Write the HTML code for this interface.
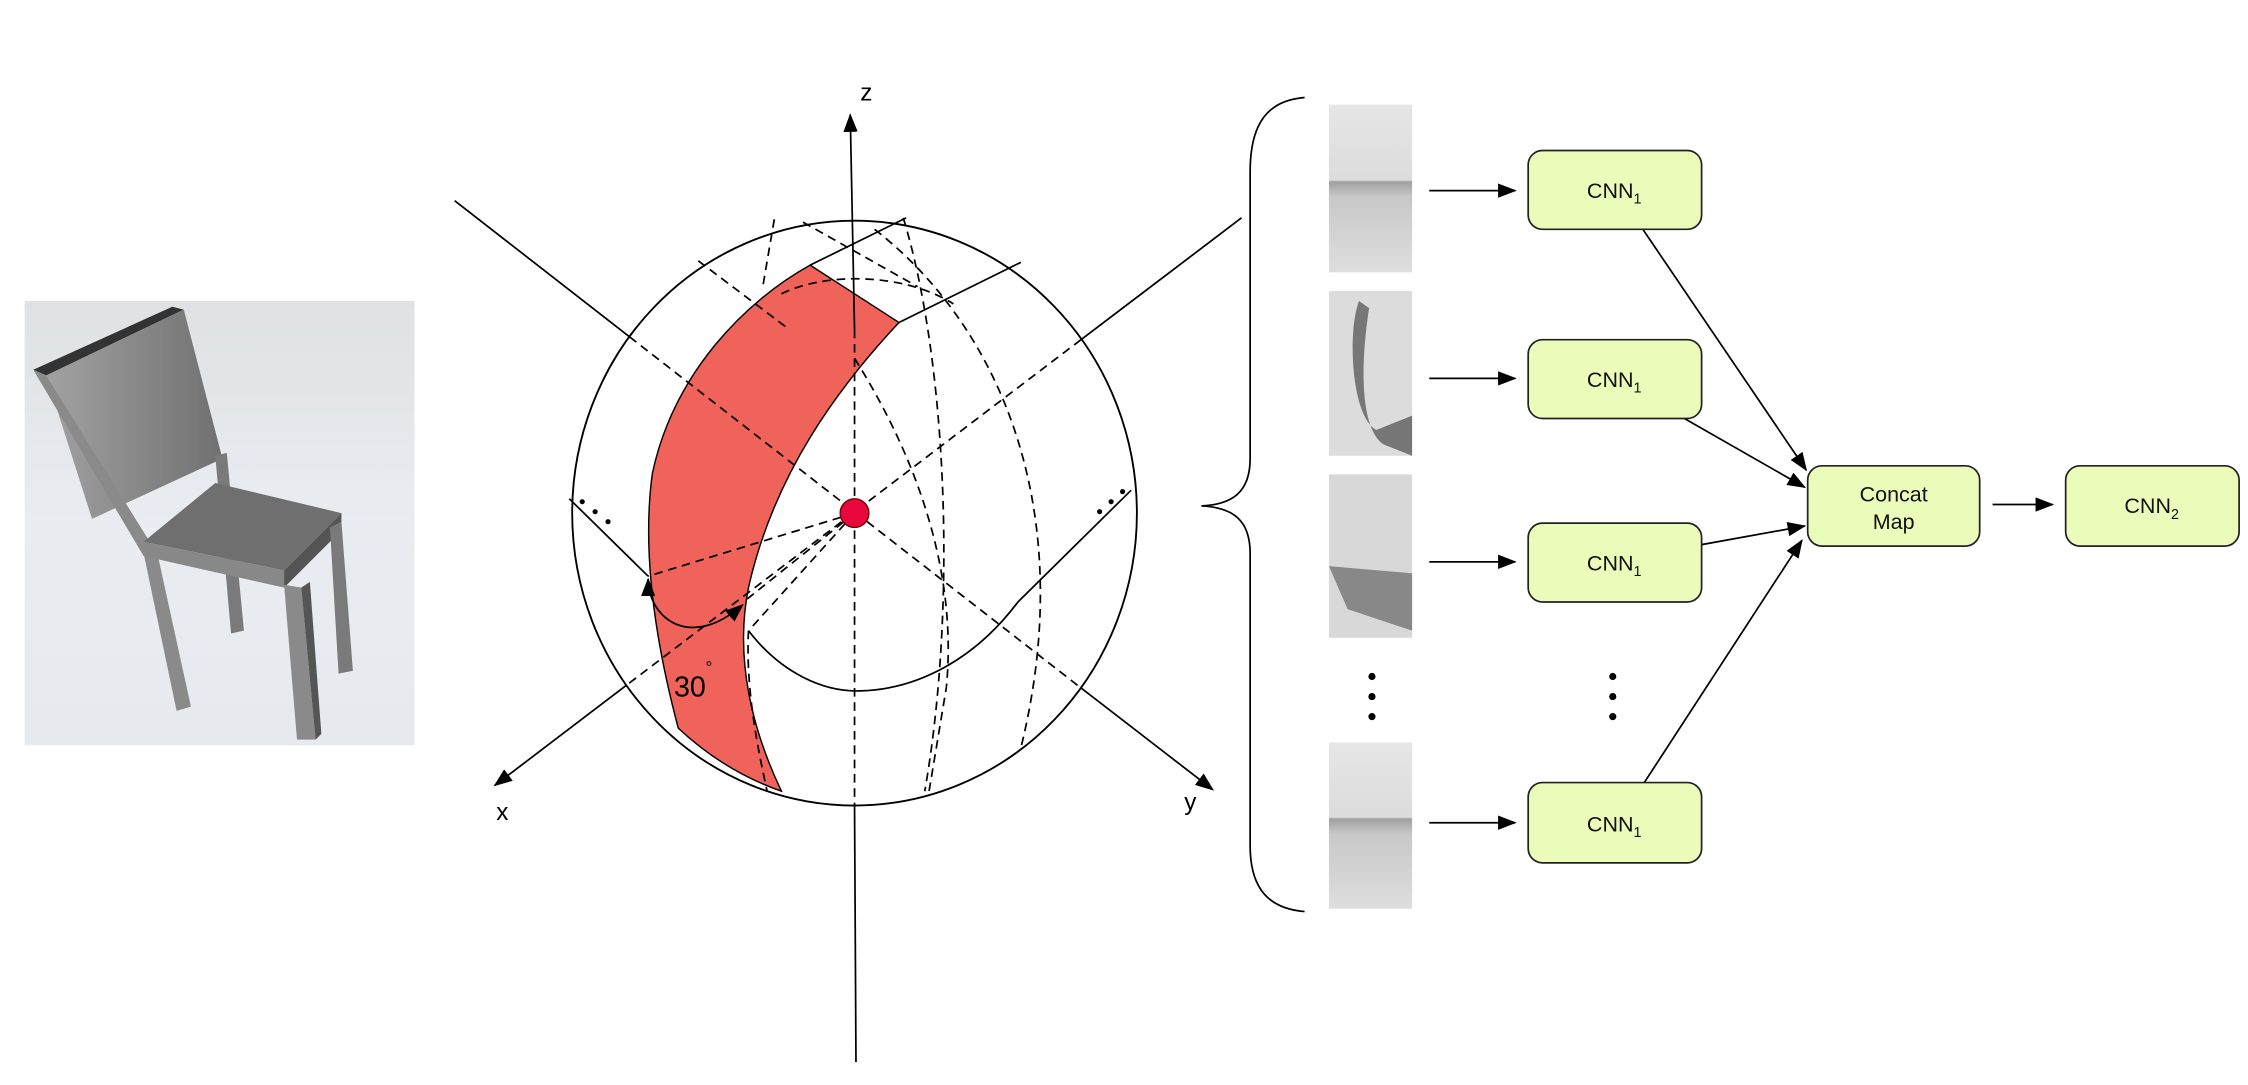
<!DOCTYPE html>
<html><head><meta charset="utf-8"><style>
html,body{margin:0;padding:0;background:#fff;}
svg{display:block;}
text{font-family:"Liberation Sans",sans-serif;}
</style></head><body>
<svg width="2248" height="1085" viewBox="0 0 1568 757" xmlns="http://www.w3.org/2000/svg">
<defs>
<marker id="ah" markerWidth="13" markerHeight="10" refX="12" refY="5" orient="auto" markerUnits="userSpaceOnUse"><path d="M0,0 L13,5 L0,10 Z" fill="#000"/></marker>
<marker id="ahs" markerWidth="13" markerHeight="10" refX="1" refY="5" orient="auto" markerUnits="userSpaceOnUse"><path d="M13,0 L0,5 L13,10 Z" fill="#000"/></marker>
<linearGradient id="bg" x1="0" y1="0" x2="0" y2="1"><stop offset="0" stop-color="#dfe1e3"/><stop offset="0.5" stop-color="#e9edf2"/><stop offset="1" stop-color="#e6eaee"/></linearGradient>
<linearGradient id="back" x1="0" y1="0" x2="1" y2="0"><stop offset="0" stop-color="#a2a2a2"/><stop offset="1" stop-color="#707070"/></linearGradient>
<linearGradient id="strip" x1="0" y1="0" x2="0" y2="1"><stop offset="0" stop-color="#e6e6e6"/><stop offset="0.45" stop-color="#dcdcdc"/><stop offset="0.46" stop-color="#a0a0a0"/><stop offset="0.55" stop-color="#c8c8c8"/><stop offset="1" stop-color="#dedede"/></linearGradient>
</defs>

<!-- chair -->
<rect x="17" y="210" width="272" height="310" fill="url(#bg)"/>
<polygon points="23,258 120,214 128,216 32,262" fill="#333"/>
<polygon points="32,262 128,216 155,320 64,362" fill="url(#back)"/>
<polygon points="23,258 32,262 108,384 100,388" fill="#8a8a8a"/>
<polygon points="100,386 110,388 133,493 123,496" fill="#8a8a8a"/>
<polygon points="150,318 158,316 170,440 161,442" fill="#7a7a7a"/>
<polygon points="100,378 150,337 238,358 198,398" fill="#6f6f6f"/>
<polygon points="100,378 198,398 198,410 100,388" fill="#888"/>
<polygon points="198,398 238,358 238,370 198,410" fill="#555"/>
<polygon points="198,408 210,410 220,516 207,516" fill="#8a8a8a"/>
<polygon points="210,410 216,406 224,512 220,516" fill="#555"/>
<polygon points="230,368 238,364 246,468 236,470" fill="#7a7a7a"/>

<!-- sphere -->
<path d="M565,185 L627,225 C585,270 540,330 522,410 C512,460 525,510 545,552 Q505,538 473,508 C455,440 448,380 455,330 C470,260 520,210 565,185 Z" fill="#ef635a" stroke="#000" stroke-width="1"/>
<ellipse cx="596" cy="358" rx="197" ry="204" fill="none" stroke="#000" stroke-width="1.3"/>

<g fill="none" stroke="#000" stroke-width="1.2">
<line x1="317" y1="140" x2="439" y2="235"/>
<line x1="754" y1="480" x2="846" y2="551" marker-end="url(#ah)"/>
<line x1="866" y1="152" x2="754" y2="237"/>
<line x1="437" y1="478" x2="345" y2="548" marker-end="url(#ah)"/>
<line x1="596" y1="230" x2="593" y2="80" marker-end="url(#ah)"/>
<line x1="596" y1="562" x2="597" y2="741"/>
<path d="M565,185 L632,152"/>
<path d="M627,225 L712,183"/>
<path d="M522,440 C545,470 575,483 600,482 C640,481 680,460 710,420 L789,342"/>
<path d="M397,348 L452,402"/>
<path d="M452,404 C452,430 480,455 518,422" marker-start="url(#ahs)" marker-end="url(#ah)"/>
</g>
<g fill="none" stroke="#000" stroke-width="1.2" stroke-dasharray="6,4">
<line x1="439" y1="235" x2="754" y2="480"/>
<line x1="754" y1="237" x2="437" y2="478"/>
<line x1="596" y1="230" x2="596" y2="562"/>
<line x1="596" y1="358" x2="452" y2="402"/>
<line x1="596" y1="358" x2="521" y2="418"/>
<line x1="596" y1="358" x2="523" y2="439"/>
<path d="M630,152 C660,250 668,420 645,552"/>
<path d="M540,153 L532,200"/>
<path d="M610,160 C700,230 752,360 712,522"/>
<path d="M596,250 C640,320 668,400 660,480 L648,552"/>
<path d="M522,440 C520,480 528,520 535,552"/>
<path d="M545,205 C575,190 630,190 665,212"/>
<path d="M487,182 L548,228"/>
<path d="M560,155 L640,200"/>
</g>
<circle cx="596" cy="358" r="10" fill="#e8083e" stroke="#700" stroke-width="1"/>
<g fill="#000">
<circle cx="406" cy="350" r="1.8"/><circle cx="415" cy="357" r="1.8"/><circle cx="424" cy="364" r="1.8"/>
<circle cx="767" cy="357" r="1.8"/><circle cx="775" cy="350" r="1.8"/><circle cx="783" cy="343" r="1.8"/>
</g>
<text x="600" y="70" font-size="17">z</text>
<text x="346" y="572" font-size="17">x</text>
<text x="826" y="565" font-size="17">y</text>
<text x="470" y="486" font-size="20">30</text>
<text x="492" y="470" font-size="12">°</text>

<!-- brace -->
<path d="M910,68 C885,70 872,85 872,120 L872,320 C872,343 860,352 838,353 C860,354 872,363 872,386 L872,590 C872,620 885,634 910,636" fill="none" stroke="#000" stroke-width="1.2"/>

<!-- strips -->
<rect x="927" y="73" width="58" height="117" fill="url(#strip)"/>
<rect x="927" y="203" width="58" height="115" fill="#dcdcdc"/>
<path d="M948,210 C940,230 942,290 960,300 L985,290 L985,318 L965,310 C950,300 948,260 955,215 Z" fill="#777"/>
<rect x="927" y="331" width="58" height="114" fill="#d8d8d8"/>
<path d="M927,395 L985,400 L985,440 L940,425 Z" fill="#888"/>
<rect x="927" y="518" width="58" height="116" fill="url(#strip)"/>
<g fill="#000">
<circle cx="957" cy="472" r="2.5"/><circle cx="957" cy="486" r="2.5"/><circle cx="957" cy="500" r="2.5"/>
<circle cx="1125" cy="472" r="2.5"/><circle cx="1125" cy="486" r="2.5"/><circle cx="1125" cy="500" r="2.5"/>
</g>

<g stroke="#000" stroke-width="1.2" fill="none">
<line x1="997" y1="133" x2="1057" y2="133" marker-end="url(#ah)"/>
<line x1="997" y1="264" x2="1057" y2="264" marker-end="url(#ah)"/>
<line x1="997" y1="392" x2="1057" y2="392" marker-end="url(#ah)"/>
<line x1="997" y1="574" x2="1057" y2="574" marker-end="url(#ah)"/>
<line x1="1146" y1="160" x2="1260" y2="328" marker-end="url(#ah)"/>
<line x1="1175" y1="292" x2="1259" y2="340" marker-end="url(#ah)"/>
<line x1="1187" y1="380" x2="1259" y2="367" marker-end="url(#ah)"/>
<line x1="1147" y1="546" x2="1257" y2="377" marker-end="url(#ah)"/>
<line x1="1390" y1="352" x2="1432" y2="352" marker-end="url(#ah)"/>
</g>

<g fill="#ebfcba" stroke="#222" stroke-width="1.2">
<rect x="1066" y="105" width="121" height="55" rx="10"/>
<rect x="1066" y="237" width="121" height="55" rx="10"/>
<rect x="1066" y="365" width="121" height="55" rx="10"/>
<rect x="1066" y="546" width="121" height="56" rx="10"/>
<rect x="1261" y="325" width="120" height="56" rx="10"/>
<rect x="1441" y="325" width="121" height="56" rx="10"/>
</g>
<g font-size="15" text-anchor="middle" fill="#111">
<text x="1126" y="138">CNN<tspan font-size="10" dy="4">1</tspan></text>
<text x="1126" y="270">CNN<tspan font-size="10" dy="4">1</tspan></text>
<text x="1126" y="398">CNN<tspan font-size="10" dy="4">1</tspan></text>
<text x="1126" y="580">CNN<tspan font-size="10" dy="4">1</tspan></text>
<text x="1321" y="350">Concat</text>
<text x="1321" y="369">Map</text>
<text x="1501" y="358">CNN<tspan font-size="10" dy="4">2</tspan></text>
</g>
</svg>
</body></html>
